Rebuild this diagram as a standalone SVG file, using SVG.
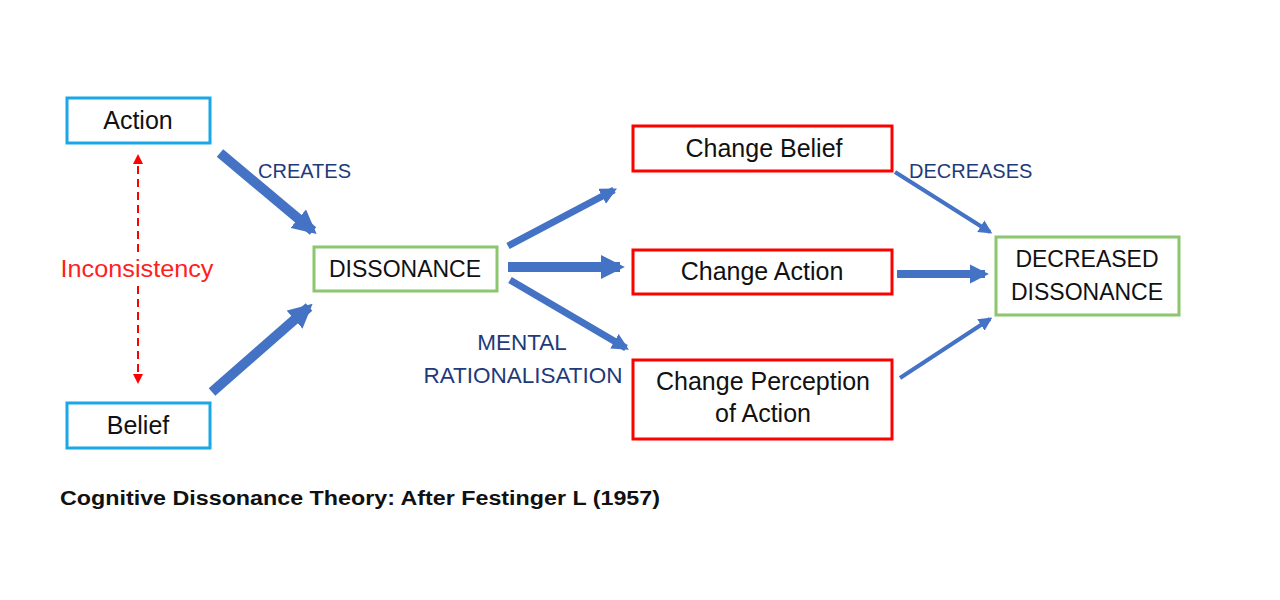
<svg xmlns="http://www.w3.org/2000/svg" width="1280" height="600" viewBox="0 0 1280 600">
<style>
.box{fill:#fff;stroke-width:3}
.cyan{stroke:#1aa7e8}
.green{stroke:#8cc66e}
.red{stroke:#ff0000}
.t{font-family:"Liberation Sans",Arial,sans-serif;font-size:25px;fill:#111;text-anchor:middle}
.c{font-size:23px}
.lbl{font-family:"Liberation Sans",Arial,sans-serif;font-size:20px;fill:#1f3a7a}
.lbl2{font-family:"Liberation Sans",Arial,sans-serif;font-size:22.5px;fill:#1f3a7a;text-anchor:middle}
.arr{stroke:#4472c4;fill:none}
</style>
<defs>
<marker id="ah" viewBox="0 0 10 10" refX="8" refY="5" markerWidth="2.4" markerHeight="2.4" orient="auto" markerUnits="strokeWidth">
<path d="M0,0 L10,5 L0,10 z" fill="#4472c4"/>
</marker>
<marker id="ahs" viewBox="0 0 10 10" refX="8" refY="5" markerWidth="3.4" markerHeight="3.4" orient="auto" markerUnits="strokeWidth">
<path d="M0,0 L10,5 L0,10 z" fill="#4472c4"/>
</marker>
<marker id="rh" viewBox="0 0 10 10" refX="8" refY="5" markerWidth="5" markerHeight="5" orient="auto-start-reverse" markerUnits="strokeWidth">
<path d="M0,0 L10,5 L0,10 z" fill="#ff0000"/>
</marker>
</defs>
<rect width="1280" height="600" fill="#fff"/>
<g id="connectors">
<line class="arr" x1="220" y1="153" x2="313" y2="231" stroke-width="10" marker-end="url(#ah)"/>
<line class="arr" x1="212" y1="392" x2="309" y2="307" stroke-width="10" marker-end="url(#ah)"/>
<line class="arr" x1="508" y1="246" x2="614" y2="190" stroke-width="7" marker-end="url(#ah)"/>
<line class="arr" x1="508" y1="267" x2="620" y2="267" stroke-width="10" marker-end="url(#ah)"/>
<line class="arr" x1="510" y1="280" x2="626" y2="348" stroke-width="7" marker-end="url(#ah)"/>
<line class="arr" x1="895" y1="172" x2="990" y2="232" stroke-width="4" marker-end="url(#ahs)"/>
<line class="arr" x1="897" y1="274" x2="985" y2="274" stroke-width="8" marker-end="url(#ah)"/>
<line class="arr" x1="900" y1="378" x2="990" y2="319" stroke-width="4" marker-end="url(#ahs)"/>
<line x1="138" y1="252" x2="138" y2="156" stroke="#ff0000" stroke-width="2" stroke-dasharray="8,5" marker-end="url(#rh)"/>
<line x1="138" y1="286" x2="138" y2="382" stroke="#ff0000" stroke-width="2" stroke-dasharray="8,5" marker-end="url(#rh)"/>
<text class="lbl" x="258" y="178">CREATES</text>
<text class="lbl" x="909" y="178">DECREASES</text>
<text class="lbl2" x="522" y="350">MENTAL</text>
<text class="lbl2" x="523" y="383">RATIONALISATION</text>
<text x="137" y="277" text-anchor="middle" font-family="Liberation Sans,Arial,sans-serif" font-size="23" fill="#ff2020" textLength="153" lengthAdjust="spacingAndGlyphs">Inconsistency</text>
</g>
<g id="action"><rect class="box cyan" x="67" y="98" width="143" height="45"/><text class="t" x="138" y="129">Action</text></g>
<g id="belief"><rect class="box cyan" x="67" y="403" width="143" height="45"/><text class="t" x="138" y="434">Belief</text></g>
<g id="dissonance"><rect class="box green" x="314" y="247" width="183" height="44"/><text class="t c" x="405" y="277">DISSONANCE</text></g>
<g id="change-belief"><rect class="box red" x="633" y="126" width="259" height="45"/><text class="t" x="764" y="157">Change Belief</text></g>
<g id="change-action"><rect class="box red" x="633" y="250" width="259" height="44"/><text class="t" x="762" y="280">Change Action</text></g>
<g id="change-perception"><rect class="box red" x="633" y="360" width="259" height="79"/><text class="t" x="763" y="390">Change Perception</text><text class="t" x="763" y="422">of Action</text></g>
<g id="decreased-dissonance"><rect class="box green" x="996" y="237" width="183" height="78"/><text class="t c" x="1087" y="267">DECREASED</text><text class="t c" x="1087" y="300">DISSONANCE</text></g>
<text x="60" y="505" font-family="Liberation Sans,Arial,sans-serif" font-size="20" font-weight="bold" fill="#111" textLength="600" lengthAdjust="spacingAndGlyphs">Cognitive Dissonance Theory: After Festinger L (1957)</text>
</svg>
